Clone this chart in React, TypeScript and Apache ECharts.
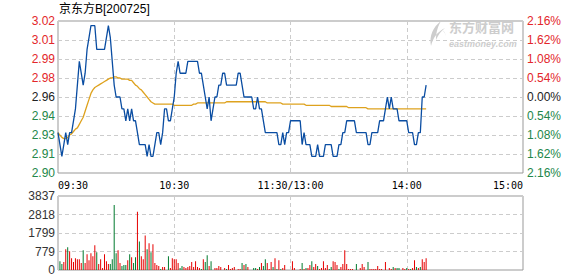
import React, { useEffect, useRef } from 'react';
import * as echarts from 'echarts';

const title = '京东方B[200725]';
const prevClose = 2.96;
const stepPct = 0.54;
const timeTickLabels = ['09:30', '10:30', '11:30/13:00', '14:00', '15:00'];
const volumeTickLabels = ['0', '779', '1799', '2818', '3837'];
const volumeMax = 3837;

// minute-by-minute price from 09:30 (index 0) to 14:10 (index 190)
const prices = [
  2.93, 2.92, 2.91, 2.92, 2.93, 2.92, 2.93, 2.93, 2.94, 2.95,
  2.97, 2.99, 2.98, 2.97, 2.98, 3.00, 3.01, 3.02, 3.02, 3.02,
  3.00, 3.00, 3.00, 3.00, 3.00, 3.01, 3.02, 3.01, 2.99, 2.97,
  2.96, 2.96, 2.96, 2.95, 2.95, 2.94, 2.95, 2.94, 2.95, 2.94,
  2.94, 2.93, 2.92, 2.92, 2.92, 2.92, 2.91, 2.92, 2.91, 2.91,
  2.92, 2.93, 2.93, 2.92, 2.93, 2.95, 2.95, 2.94, 2.94, 2.95,
  2.96, 2.98, 2.99, 2.98, 2.98, 2.98, 2.98, 2.99, 2.99, 2.99,
  2.99, 2.99, 2.99, 2.98, 2.98, 2.97, 2.96, 2.95, 2.96, 2.94,
  2.95, 2.96, 2.96, 2.97, 2.97, 2.98, 2.98, 2.97, 2.97, 2.97,
  2.97, 2.97, 2.97, 2.98, 2.98, 2.97, 2.96, 2.96, 2.96, 2.96,
  2.96, 2.95, 2.95, 2.96, 2.95, 2.95, 2.94, 2.93, 2.93, 2.93,
  2.93, 2.93, 2.93, 2.93, 2.92, 2.92, 2.93, 2.92, 2.93, 2.93,
  2.94, 2.94, 2.94, 2.94, 2.94, 2.94, 2.92, 2.93, 2.92, 2.92,
  2.92, 2.91, 2.91, 2.91, 2.92, 2.91, 2.91, 2.91, 2.92, 2.92,
  2.92, 2.92, 2.91, 2.91, 2.91, 2.92, 2.92, 2.93, 2.93, 2.94,
  2.94, 2.94, 2.94, 2.94, 2.93, 2.93, 2.93, 2.93, 2.93, 2.93,
  2.92, 2.92, 2.93, 2.93, 2.93, 2.93, 2.94, 2.94, 2.94, 2.95,
  2.96, 2.95, 2.96, 2.95, 2.95, 2.95, 2.94, 2.94, 2.94, 2.94,
  2.94, 2.93, 2.93, 2.93, 2.92, 2.92, 2.93, 2.93, 2.96, 2.96,
  2.97,
];

const avgPrices = [
  2.930, 2.928, 2.926, 2.925, 2.925, 2.926, 2.928, 2.929, 2.931, 2.933,
  2.934, 2.937, 2.940, 2.943, 2.948, 2.953, 2.958, 2.963, 2.966, 2.968,
  2.969, 2.970, 2.971, 2.972, 2.973, 2.974, 2.975, 2.976, 2.976, 2.977,
  2.977, 2.976, 2.976, 2.975, 2.975, 2.975, 2.975, 2.974, 2.974, 2.972,
  2.970, 2.969, 2.967, 2.966, 2.964, 2.962, 2.960, 2.958, 2.956, 2.955,
  2.954, 2.954, 2.954, 2.954, 2.954, 2.954, 2.954, 2.954, 2.954, 2.954,
  2.953, 2.953, 2.953, 2.953, 2.953, 2.953, 2.953, 2.953, 2.953, 2.953,
  2.954, 2.954, 2.955, 2.955, 2.955, 2.955, 2.955, 2.955, 2.955, 2.955,
  2.955, 2.955, 2.955, 2.955, 2.955, 2.955, 2.955, 2.956, 2.956, 2.956,
  2.956, 2.956, 2.956, 2.956, 2.956, 2.956, 2.956, 2.956, 2.956, 2.956,
  2.956, 2.956, 2.956, 2.956, 2.956, 2.956, 2.956, 2.956, 2.955, 2.955,
  2.955, 2.955, 2.955, 2.955, 2.955, 2.955, 2.954, 2.954, 2.954, 2.954,
  2.954, 2.954, 2.954, 2.954, 2.954, 2.954, 2.954, 2.954, 2.953, 2.953,
  2.953, 2.953, 2.953, 2.953, 2.953, 2.953, 2.953, 2.953, 2.953, 2.953,
  2.953, 2.952, 2.952, 2.952, 2.952, 2.952, 2.952, 2.952, 2.952, 2.952,
  2.951, 2.951, 2.951, 2.951, 2.951, 2.951, 2.951, 2.951, 2.951, 2.951,
  2.950, 2.950, 2.950, 2.950, 2.950, 2.950, 2.950, 2.950, 2.950, 2.950,
  2.950, 2.950, 2.950, 2.950, 2.950, 2.950, 2.950, 2.950, 2.950, 2.950,
  2.950, 2.950, 2.950, 2.950, 2.950, 2.950, 2.950, 2.950, 2.950, 2.950,
  2.950,
];

const volumes = [
  0, 460, 307, 410, 1074, 1177, 972, 614, 410, 614,
  563, 563, 358, 1023, 358, 819, 512, 870, 716, 1279,
  921, 307, 563, 102, 819, 460, 307, 307, 563, 3376,
  870, 1023, 358, 205, 256, 256, 512, 819, 665, 358,
  665, 3018, 1484, 716, 563, 1791, 1074, 1381, 921, 1330,
  358, 256, 205, 51, 153, 153, 0, 716, 102, 614,
  563, 563, 358, 102, 205, 153, 102, 153, 205, 410,
  153, 460, 153, 102, 51, 563, 410, 767, 205, 460,
  0, 102, 102, 205, 153, 0, 102, 51, 256, 51,
  102, 153, 0, 51, 51, 358, 256, 307, 153, 0,
  0, 102, 102, 51, 153, 358, 205, 563, 358, 51,
  410, 153, 614, 51, 512, 51, 102, 256, 0, 0,
  0, 460, 102, 0, 0, 51, 358, 51, 102, 102,
  256, 460, 153, 307, 205, 51, 102, 460, 102, 256,
  51, 153, 460, 410, 256, 51, 153, 307, 1023, 307,
  51, 51, 51, 0, 307, 0, 102, 307, 153, 0,
  410, 51, 51, 51, 51, 205, 51, 51, 0, 410,
  0, 102, 51, 153, 102, 102, 102, 0, 102, 51,
  102, 51, 51, 102, 512, 153, 102, 153, 563, 410,
  614,
];

// 1 = red (up) bar, 0 = green (down) bar
const volumeUp = [
  1, 0, 0, 1, 1, 0, 1, 1, 1, 1,
  1, 1, 1, 0, 1, 1, 1, 1, 1, 1,
  0, 1, 1, 1, 1, 1, 1, 0, 0, 0,
  0, 1, 1, 0, 0, 0, 1, 0, 1, 0,
  0, 1, 0, 1, 1, 1, 0, 1, 0, 1,
  1, 1, 1, 0, 1, 1, 1, 0, 1, 1,
  1, 1, 1, 0, 0, 1, 1, 1, 1, 1,
  1, 1, 1, 1, 0, 1, 0, 0, 1, 0,
  1, 1, 1, 1, 1, 1, 1, 0, 1, 1,
  1, 1, 1, 1, 1, 0, 1, 0, 1, 1,
  1, 0, 0, 1, 0, 1, 0, 0, 1, 1,
  1, 0, 1, 0, 1, 0, 1, 1, 1, 1,
  1, 1, 1, 1, 1, 1, 0, 1, 0, 1,
  1, 0, 1, 1, 0, 1, 1, 1, 1, 1,
  0, 0, 1, 1, 1, 0, 1, 1, 1, 1,
  1, 1, 1, 1, 0, 1, 1, 1, 1, 1,
  0, 1, 1, 1, 1, 1, 1, 1, 1, 1,
  1, 1, 1, 0, 1, 0, 0, 1, 1, 1,
  0, 1, 0, 1, 1, 0, 1, 0, 1, 1,
  1,
];

const RED = '#e3262a';
const GREEN = '#23874a';
const LABEL_FONT = '"Liberation Sans", Arial, sans-serif';

const toStep = (p: number) => (p / prevClose - 1) * 100 / stepPct;
const stepColor = (v: any) => {
  const k = Math.round(Number(v));
  return k > 0 ? RED : k < 0 ? GREEN : '#222222';
};

echarts.graphic.registerShape(
  'emlogo',
  echarts.graphic.extendPath(
    'M13 0 C5 6 1 15 3 25 C5 17 9 11 17 7 C13 10 10 14 8 19 C8 11 10 5 13 0 Z M14 9 C18 11 19 16 16 22 C19 16 18 12 14 9 Z',
    {}
  )
);

export default function App() {
  const ref = useRef<HTMLDivElement>(null);
  useEffect(() => {
    if (!ref.current) return;
    const chart = echarts.init(ref.current, undefined, { renderer: 'svg' });
    const priceData = prices.map((p, i) => [i, toStep(p)]);
    const avgData = avgPrices.map((p, i) => [i, toStep(p)]);
    const volData = volumes.map((v, i) => [i, v]);
    const splitDash = { show: true, lineStyle: { color: '#cccccc', type: [4, 3] as any, width: 1 } };
    chart.setOption({
      animation: false,
      backgroundColor: '#ffffff',
      grid: [
        { left: 58, right: 55, top: 21, height: 152, show: true, borderColor: '#999999', borderWidth: 1, backgroundColor: 'transparent' },
        { left: 58, right: 55, top: 196, height: 75, show: true, borderColor: '#999999', borderWidth: 1, backgroundColor: 'transparent' },
      ],
      xAxis: [
        {
          type: 'value', gridIndex: 0, min: 0, max: 240, interval: 60,
          axisLine: { show: false }, axisTick: { show: false },
          splitLine: splitDash,
          axisLabel: {
            show: true, margin: 7, color: '#000000', fontSize: 10,
            fontFamily: '"DejaVu Sans Mono", monospace',
            formatter: (v: number) => timeTickLabels[Math.round(v / 60)] ?? '',
            alignMinLabel: 'left', alignMaxLabel: 'right',
          },
        },
        {
          type: 'value', gridIndex: 1, min: 0, max: 240, interval: 60,
          axisLine: { show: false }, axisTick: { show: false },
          splitLine: splitDash, axisLabel: { show: false },
        },
      ],
      yAxis: [
        {
          type: 'value', gridIndex: 0, min: -4, max: 4, interval: 1,
          axisLine: { show: false }, axisTick: { show: false },
          splitLine: splitDash,
          axisLabel: {
            margin: 3, fontSize: 12, fontFamily: LABEL_FONT, color: stepColor,
            formatter: (v: number) => (prevClose * (1 + Math.round(v) * stepPct / 100)).toFixed(2),
          },
        },
        {
          type: 'value', gridIndex: 0, min: -4, max: 4, interval: 1, position: 'right',
          axisLine: { show: false }, axisTick: { show: false }, splitLine: { show: false },
          axisLabel: {
            margin: 4, fontSize: 12, fontFamily: LABEL_FONT, color: stepColor,
            formatter: (v: number) => Math.abs(Math.round(v) * stepPct).toFixed(2) + '%',
          },
        },
        {
          type: 'value', gridIndex: 1, min: 0, max: volumeMax, interval: volumeMax / 4,
          axisLine: { show: false }, axisTick: { show: false },
          splitLine: splitDash,
          axisLabel: {
            margin: 3, fontSize: 12, fontFamily: LABEL_FONT, color: '#333333',
            formatter: (v: number) => volumeTickLabels[Math.round(v / (volumeMax / 4))] ?? '',
          },
        },
      ],
      series: [
        {
          type: 'line', xAxisIndex: 0, yAxisIndex: 0, data: avgData, showSymbol: false,
          lineStyle: { color: '#dea21e', width: 1.3 }, z: 3,
        },
        {
          type: 'line', xAxisIndex: 0, yAxisIndex: 0, data: priceData, showSymbol: false,
          lineStyle: { color: '#0a4da2', width: 1.3 }, z: 4,
        },
        {
          type: 'bar', xAxisIndex: 1, yAxisIndex: 2, data: volData, barWidth: 1,
          itemStyle: { color: (p: any) => (volumeUp[p.dataIndex] ? '#e60000' : '#007a2e') },
        },
      ],
      graphic: [
        {
          type: 'text', left: 59, top: 3, z: 10,
          style: { text: title, fill: '#000000', fontSize: 12, fontFamily: '"Liberation Sans", "Noto Sans CJK SC", sans-serif' },
        },
        {
          type: 'emlogo', x: 428, y: 21, scaleX: 1, scaleY: 1, z: 0,
          style: { fill: '#cdcdcd' },
        },
        {
          type: 'text', x: 449, y: 20, z: 0,
          style: { text: '东方财富网', fill: '#cdcdcd', fontSize: 13, lineHeight: 13, fontWeight: 'bold', fontFamily: '"Noto Sans CJK SC", sans-serif' },
        },
        {
          type: 'text', x: 449, y: 39, z: 0,
          style: { text: 'eastmoney.com', fill: '#cdcdcd', fontSize: 9, lineHeight: 9, fontWeight: 'bold', fontStyle: 'italic', fontFamily: '"Liberation Sans", Arial, sans-serif' },
        },
      ],
    });
    return () => chart.dispose();
  }, []);
  return <div ref={ref} style={{ position: 'absolute', left: 0, top: 0, width: 578, height: 276 }} />;
}
